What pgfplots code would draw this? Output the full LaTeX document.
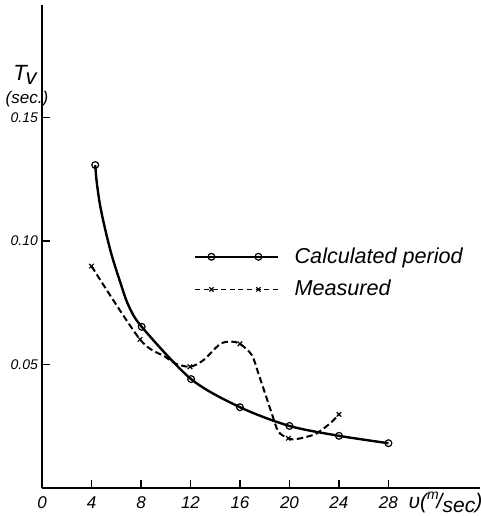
\documentclass[border=0pt]{standalone}
\usepackage{fontspec}
\setmainfont{Liberation Sans}
\usepackage{pgfplots}
\pgfplotsset{compat=1.18}

\begin{document}
\begin{tikzpicture}
\begin{axis}[
    scale only axis,
    width=219pt, height=241.3pt,
    xmin=0, xmax=35.4,
    ymin=0, ymax=0.1957,
    axis lines=left,
    axis line style={-, line width=0.9pt},
    tick align=inside,
    major tick length=4pt,
    tick style={black, line width=0.7pt},
    xtick={0,4,...,28},
    ytick={0.05,0.10,0.15},
    yticklabels={0.05,0.10,0.15},
    /pgf/number format/assume math mode=true,
    xticklabel style={font=\fontsize{8.5}{9}\selectfont\itshape, yshift=-1pt},
    yticklabel style={font=\fontsize{7}{8}\selectfont\itshape, xshift=1.5pt},
    legend style={draw=none, fill=none, at={(rel axis cs:0.333,0.515)}, anchor=north west,
        font=\fontsize{10.8}{15.5}\selectfont\itshape, row sep=3pt,
        legend cell align=left},
    legend image code/.code={
        \draw[mark repeat=3, mark phase=2, #1] plot coordinates {(0pt,0pt) (8pt,0pt) (15pt,0pt) (25pt,0pt) (31.5pt,0pt) (41.5pt,0pt)};
        \path (47pt,0pt);
    },
    clip=false,
]
% calculated period, curve
\addplot[black, line width=1.2pt, smooth, tension=0.5, forget plot] coordinates {
    (4.3,0.1308) (4.42,0.1240) (4.69,0.1146) (5.09,0.1051) (5.63,0.0943)
    (6.31,0.0835) (6.98,0.0740) (8.06,0.0652)
    (12.05,0.0440) (16.0,0.0326) (20.0,0.0250) (24.0,0.0210) (28.0,0.0180)
};
% calculated period, points
\addplot[only marks, mark=o, mark size=1.7pt, mark options={fill=white, line width=0.6pt}, forget plot] coordinates {
    (4.3,0.1308) (8.06,0.0652) (12.05,0.0440) (16.0,0.0326) (20.0,0.0250) (24.0,0.0210) (28.0,0.0180)
};
% measured, curve
\addplot[black, line width=1.0pt, dash pattern=on 3.2pt off 1.7pt, smooth, tension=0.5, forget plot] coordinates {
    (4.0,0.0898) (7.92,0.0601) (9.94,0.0531) (10.75,0.0504) (11.96,0.0490)
    (13.05,0.0517) (14.39,0.0582) (15.3,0.0592) (16.0,0.0583) (16.95,0.0538)
    (17.49,0.0463) (18.03,0.0382) (18.57,0.0301) (19.1,0.0227) (19.91,0.0200)
    (20.45,0.0196) (21.4,0.0206) (22.2,0.0220) (23.3,0.0261) (24.0,0.0297)
};
% measured, points
\addplot[only marks, mark=x, mark size=1.6pt, mark options={solid, line width=0.6pt}, forget plot] coordinates {
    (4.0,0.0898) (7.92,0.0601) (11.96,0.0490) (16.0,0.0583) (19.91,0.0200) (24.0,0.0297)
};

\addlegendimage{black, line width=1.2pt, mark=o, mark options={fill=white, line width=0.6pt, solid}, mark size=1.7pt}
\addlegendentry{Calculated period}
\addlegendimage{black, line width=0.7pt, dash pattern=on 2.5pt off 1.8pt, mark=x, mark options={solid, line width=0.6pt}, mark size=1.5pt}
\addlegendentry{Measured}

\node[anchor=south, font=\fontsize{11}{12}\selectfont\itshape, inner sep=0pt]
    at ([xshift=-8.5pt]rel axis cs:0,0.835) {T\kern-0.05em\raisebox{-0.3ex}{v}};
\node[anchor=north, font=\fontsize{8.5}{10}\selectfont\itshape, inner sep=0pt]
    at ([xshift=-7.5pt]rel axis cs:0,0.822) {(sec.)};
\node[anchor=west, font=\fontsize{10.5}{12}\selectfont\itshape, inner sep=0pt]
    at ([yshift=-7.5pt]axis cs:29.6,0) {υ(\raisebox{0.45em}{\scriptsize m}\kern-0.1em/\raisebox{-0.15em}{sec})};
\coordinate (O) at (rel axis cs:0,0);
\end{axis}
\pgfresetboundingbox
\useasboundingbox ([shift={(-21pt,-14.2pt)}]O) rectangle ([shift={(219.5pt,243.8pt)}]O);
\end{tikzpicture}
\end{document}
